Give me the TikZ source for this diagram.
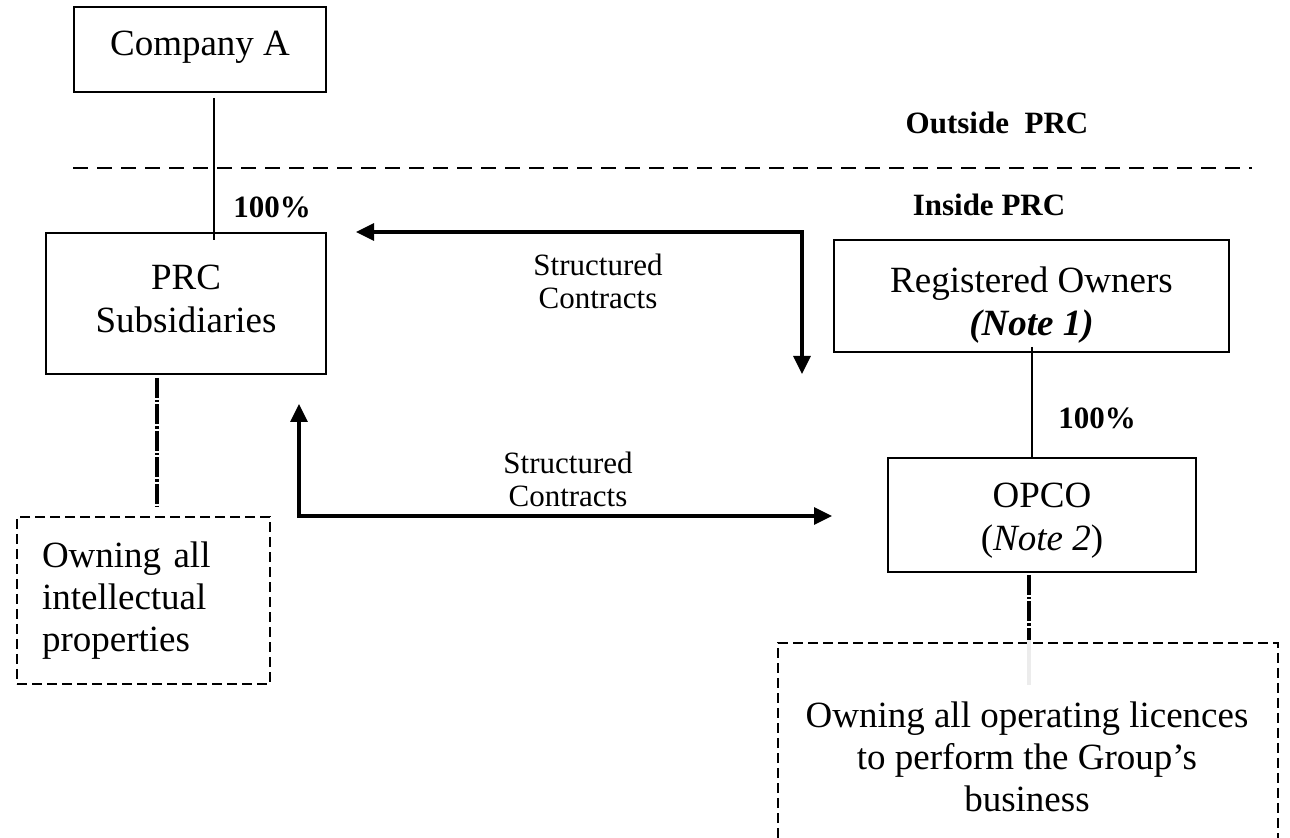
\documentclass[tikz,border=0pt]{standalone}
\usepackage{fontspec}
\setmainfont{Liberation Serif}
\usetikzlibrary{arrows.meta,calc}
\tikzset{
  box/.style={draw, line width=1pt, inner sep=0pt},
  boxtext/.style={align=center, inner sep=0pt, font=\fontsize{18.5pt}{21.5pt}\selectfont},
  dbox/.style={draw, line width=0.8pt, dash pattern=on 5pt off 2.5pt,
    inner ysep=0pt, font=\fontsize{18.5pt}{21pt}\selectfont},
  dline/.style={line width=0.8pt, dash pattern=on 5pt off 2.5pt},
  sepline/.style={line width=0.8pt, dash pattern=on 7.5pt off 4.5pt},
  lbl/.style={font=\fontsize{15.5pt}{16.5pt}\selectfont\bfseries},
  small/.style={align=center, font=\fontsize{15.5pt}{16.5pt}\selectfont},
  link/.style={line width=1pt},
  flow/.style={line width=1.6pt,
    {Triangle[length=9pt,width=8.5pt]}-{Triangle[length=9pt,width=8.5pt]}},
  dashdot/.style={line width=1.7pt, dash pattern=on 10pt off 1pt on 1.2pt off 1pt}
}
\begin{document}
\begin{tikzpicture}[x=0.5pt,y=-0.5pt]
\useasboundingbox (0,0) rectangle (1290,838);

% entities
\node[box, minimum width=126pt, minimum height=42.5pt] (compA) at (200,49.5) {};
\node[boxtext] (compAT) at (200,47) {Company A};
\node[box, minimum width=140pt, minimum height=70.5pt] (prc) at (186,303.5) {};
\node[boxtext] (prcT) at (186,299) {PRC\\Subsidiaries};
\node[box, minimum width=197.5pt, minimum height=56pt] (regown) at (1031.5,296) {};
\node[boxtext] (regownT) at (1031.5,305) {Registered Owners\\\textbf{\textit{(Note 1)}}};
\node[box, minimum width=154pt, minimum height=57pt] (opco) at (1042,515) {};
\node[boxtext] (opcoT) at (1042,521) {OPCO\\(\textit{Note 2})};

% what each side owns
\node[dbox, text width=101.5pt, inner xsep=12.5pt, minimum height=83.5pt, align=left]
  (ipbox) at (143.5,600.5) {Owning all\\intellectual\\properties};
\coordinate (licTL) at (778,643);
\coordinate (licTR) at (1278,643);
\coordinate (licBL) at (778,838);
\coordinate (licBR) at (1278,838);
\draw[dline] (licBL) -- (licTL) -- (licTR) -- (licBR);
\node[align=center, font=\fontsize{18.5pt}{21pt}\selectfont] (lic) at (1027,757)
  {Owning all operating licences\\to perform the Group’s\\business};

% border between outside and inside PRC
\coordinate (sepL) at (73,168);
\coordinate (sepR) at (1252,168);
\draw[sepline] (sepL) -- (sepR);
\node[lbl] (outside) at (997,123) {Outside\ \ PRC};
\node[lbl] (inside) at (989,205) {Inside PRC};

% ownership links
\draw[link] ($(compA.south)+(14,5)$) -- ($(prc.north)+(28,8)$);
\node[lbl] (pctA) at (272,207) {100\%};
\draw[link] ($(regown.south)+(0,-6)$) -- (regown.south |- opco.north);
\node[lbl] (pctB) at (1097,418) {100\%};

% structured contracts
\coordinate (lTip) at ($(prc.north east)+(29,0)$);
\coordinate (dTip) at ($(regown.south west)+(-31,21)$);
\draw[flow] (lTip) -- (lTip -| dTip) -- (dTip);
\node[small] (sc1) at (598,281) {Structured\\Contracts};

\coordinate (uTip) at ($(prc.south east)+(-28,29)$);
\coordinate (rTip) at ($(opco.west)+(-55,1)$);
\draw[flow] (uTip) -- (uTip |- rTip) -- (rTip);
\node[small] (sc2) at (568,479) {Structured\\Contracts};

% dash-dot links to holdings
\draw[dashdot] ($(prc.south)+(-29,3)$) -- ($(ipbox.north)+(13.5,-10)$);
\coordinate (licTop) at (1029,640);
\draw[dashdot] ($(opco.south)+(-13,2)$) -- (licTop);
\draw[gray!15, line width=1.6pt] (licTop) -- ++(0,45);
\end{tikzpicture}
\end{document}
